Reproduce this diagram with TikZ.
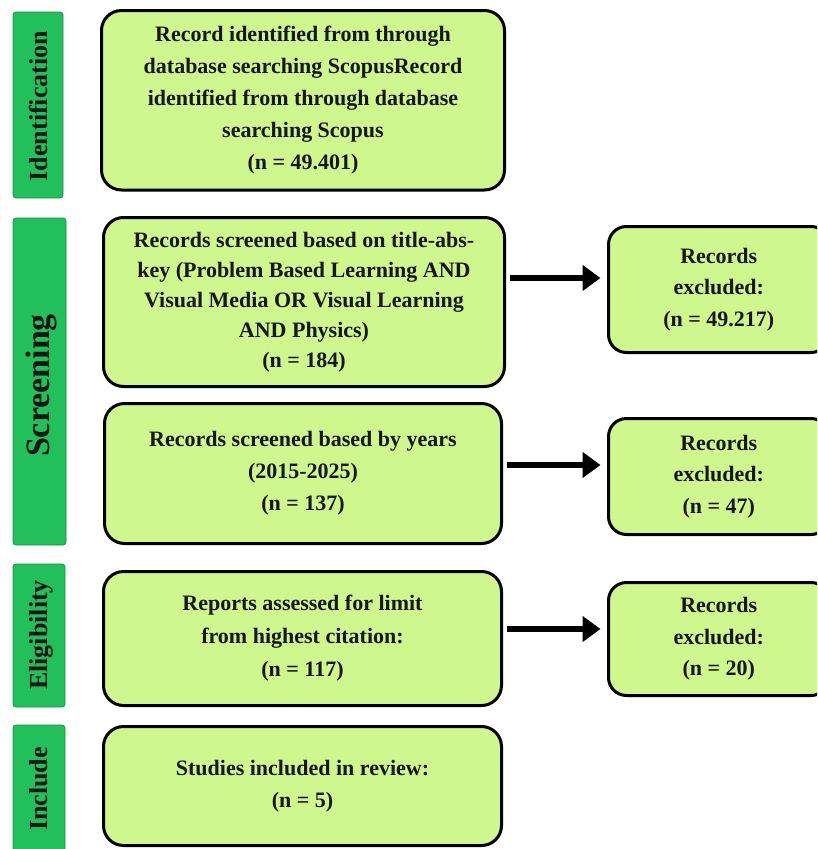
\documentclass[tikz,border=0pt]{standalone}
\usepackage{fontspec}
\setmainfont{Liberation Serif}
\usetikzlibrary{arrows.meta}
\definecolor{barg}{RGB}{34,192,90}
\definecolor{boxg}{RGB}{206,247,142}
\definecolor{ink}{RGB}{22,22,22}
\begin{document}
\begin{tikzpicture}[x=1pt,y=-1pt,
  bar/.style={draw=barg!75!black, line width=0.8pt, fill=barg, rounded corners=3pt, inner sep=0pt},
  mainbox/.style={draw=black, line width=3pt, fill=boxg, rounded corners=20pt, align=center,
    font=\fontsize{22}{32}\selectfont\bfseries, text=ink, inner sep=0pt},
  exbox/.style={mainbox, rounded corners=18pt},
  arr/.style={line width=6pt, -{Triangle[length=18pt,width=25pt]}, shorten <=3.5pt, shorten >=6.5pt},
  lab/.style={rotate=90, anchor=base, inner sep=0pt, text=ink, font=\fontsize{26}{26}\selectfont\bfseries}]
\useasboundingbox (0,0) rectangle (817,849);
\clip (0,0) rectangle (817,849);
\fill[white] (0,0) rectangle (817,849);

% stage bars
\node[bar, minimum width=50pt, minimum height=186pt] (bar1) at (38,105) {};
\node[bar, minimum width=53pt, minimum height=327pt] (bar2) at (39.5,381.5) {};
\node[bar, minimum width=52pt, minimum height=143pt] (bar3) at (39,635.5) {};
\node[bar, minimum width=52pt, minimum height=150pt] (bar4) at (39,800) {};

\node[lab] (lab1) at (47,106) {Identification};
\node[lab, font=\fontsize{34}{34}\selectfont\bfseries] (lab2) at (49,385.5) {Screening};
\node[lab] (lab3) at (47,635) {Eligibility};
\node[lab] (lab4) at (47,789) {Include};

% main boxes
\node[mainbox, minimum width=403pt, minimum height=179.5pt] (box1) at (303,100.25)
  {Record identified from through\\ database searching ScopusRecord\\ identified from through database\\ searching Scopus\\ (n = 49.401)};
\node[mainbox, minimum width=401pt, minimum height=169pt, font=\fontsize{22}{30}\selectfont\bfseries] (box2) at (304,302)
  {Records screened based on title-abs-\\ key (Problem Based Learning AND\\ Visual Media OR Visual Learning\\ AND Physics)\\ (n = 184)};
\node[mainbox, minimum width=397pt, minimum height=140pt] (box3) at (303,473.5)
  {Records screened based by years\\ (2015-2025)\\ (n = 137)};
\node[mainbox, minimum width=398pt, minimum height=134pt, font=\fontsize{22}{33}\selectfont\bfseries] (box4) at (302.5,638.5)
  {Reports assessed for limit\\ from highest citation:\\ (n = 117)};
\node[mainbox, minimum width=398pt, minimum height=119pt] (box5) at (302.5,786)
  {Studies included in review:\\ (n = 5)};

% excluded boxes
\node[exbox, minimum width=220.5pt, minimum height=126pt, font=\fontsize{22}{31.5}\selectfont\bfseries] (ex1) at (718.75,289.5)
  {Records\\ excluded:\\ (n = 49.217)};
\node[exbox, minimum width=220.5pt, minimum height=116pt, font=\fontsize{22}{31.5}\selectfont\bfseries] (ex2) at (718.75,476.5)
  {Records\\ excluded:\\ (n = 47)};
\node[exbox, minimum width=220.5pt, minimum height=113pt, font=\fontsize{22}{31.5}\selectfont\bfseries] (ex3) at (718.75,639)
  {Records\\ excluded:\\ (n = 20)};

% arrows
\coordinate (a1) at ([yshift=11.5pt]ex1.west);
\coordinate (a2) at ([yshift=11.5pt]ex2.west);
\coordinate (a3) at ([yshift=10pt]ex3.west);
\draw[arr] (a1 -| box2.east) -- (a1);
\draw[arr] (a2 -| box3.east) -- (a2);
\draw[arr] (a3 -| box4.east) -- (a3);
\end{tikzpicture}
\end{document}
